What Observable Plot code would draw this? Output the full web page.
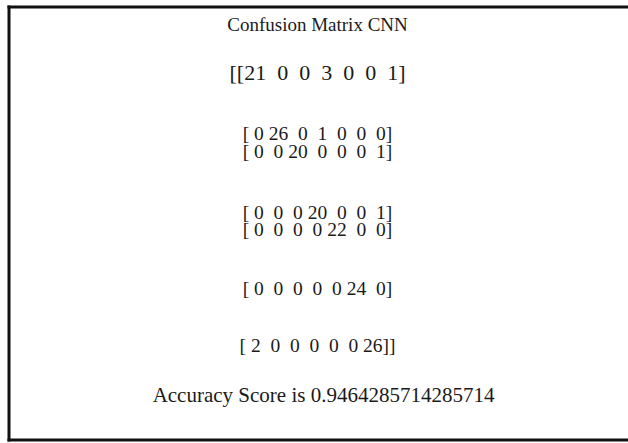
<!DOCTYPE html>
<html>
<head>
<meta charset="utf-8">
<script src="https://cdn.jsdelivr.net/npm/d3@7"></script>
<script src="https://cdn.jsdelivr.net/npm/@observablehq/plot@0.6"></script>
<style>
  html, body { margin: 0; padding: 0; background: #fff; overflow: hidden; }
  svg text { white-space: pre; }
</style>
</head>
<body>
<div id="chart"></div>
<script>
// ---- data ----
const title = "Confusion Matrix CNN";
const row0 = [21, 0, 0, 3, 0, 0, 1];
const row1 = [0, 26, 0, 1, 0, 0, 0];
const row2 = [0, 0, 20, 0, 0, 0, 1];
const row3 = [0, 0, 0, 20, 0, 0, 1];
const row4 = [0, 0, 0, 0, 22, 0, 0];
const row5 = [0, 0, 0, 0, 0, 24, 0];
const row6 = [2, 0, 0, 0, 0, 0, 26];
const accuracyLabel = "Accuracy Score is";
const accuracy = 0.9464285714285714;

// ---- build text lines (numpy-style printing) ----
const matrix = [row0, row1, row2, row3, row4, row5, row6];
const fmt = (v) => String(v).padStart(2, " ");
const matrixLines = matrix.map((r, i) =>
  (i === 0 ? "[[" : "[") + r.map(fmt).join(" ") + (i === matrix.length - 1 ? "]]" : "]")
);
const allLines = [title, ...matrixLines, `${accuracyLabel} ${accuracy}`]
  .map((text, i) => ({line: i, text}));
const titleLine = allLines.slice(0, 1);
const firstRow = allLines.slice(1, 2);
const otherRows = allLines.slice(2, 8);
const accLine = allLines.slice(8);

// piecewise layout of the text lines (line order -> vertical slot)
const lineScale = d3.scaleLinear()
  .domain([0, 1, 2, 3, 4, 5, 6, 7, 8])
  .range([24, 72, 133, 151, 212, 229, 288, 345, 395]);

const common = {
  x: () => 0.5,
  y: (d) => lineScale(d.line),
  text: "text",
  fill: "#1a1a1a",
  lineAnchor: "middle"
};

const chart = Plot.plot({
  width: 628,
  height: 443,
  marginLeft: 8.5,
  marginRight: -20,
  marginTop: 6.5,
  marginBottom: 3.5,
  style: {fontFamily: "'Liberation Serif', 'Times New Roman', serif", background: "#fff", overflow: "hidden"},
  x: {axis: null, domain: [0, 1], range: [8.5, 625.5]},
  y: {axis: null, type: "identity"},
  marks: [
    Plot.frame({anchor: "left", stroke: "#111", strokeWidth: 3}),
    Plot.frame({anchor: "top", stroke: "#111", strokeWidth: 3}),
    Plot.frame({anchor: "bottom", stroke: "#111", strokeWidth: 3}),
    Plot.text(titleLine, {...common, fontSize: 19}),
    Plot.text(firstRow, {...common, fontSize: 22}),
    Plot.text(otherRows, {...common, fontSize: 19.5}),
    Plot.text(accLine, {...common, fontSize: 21, dx: 6})
  ]
});
document.getElementById("chart").appendChild(chart);
</script>
</body>
</html>
